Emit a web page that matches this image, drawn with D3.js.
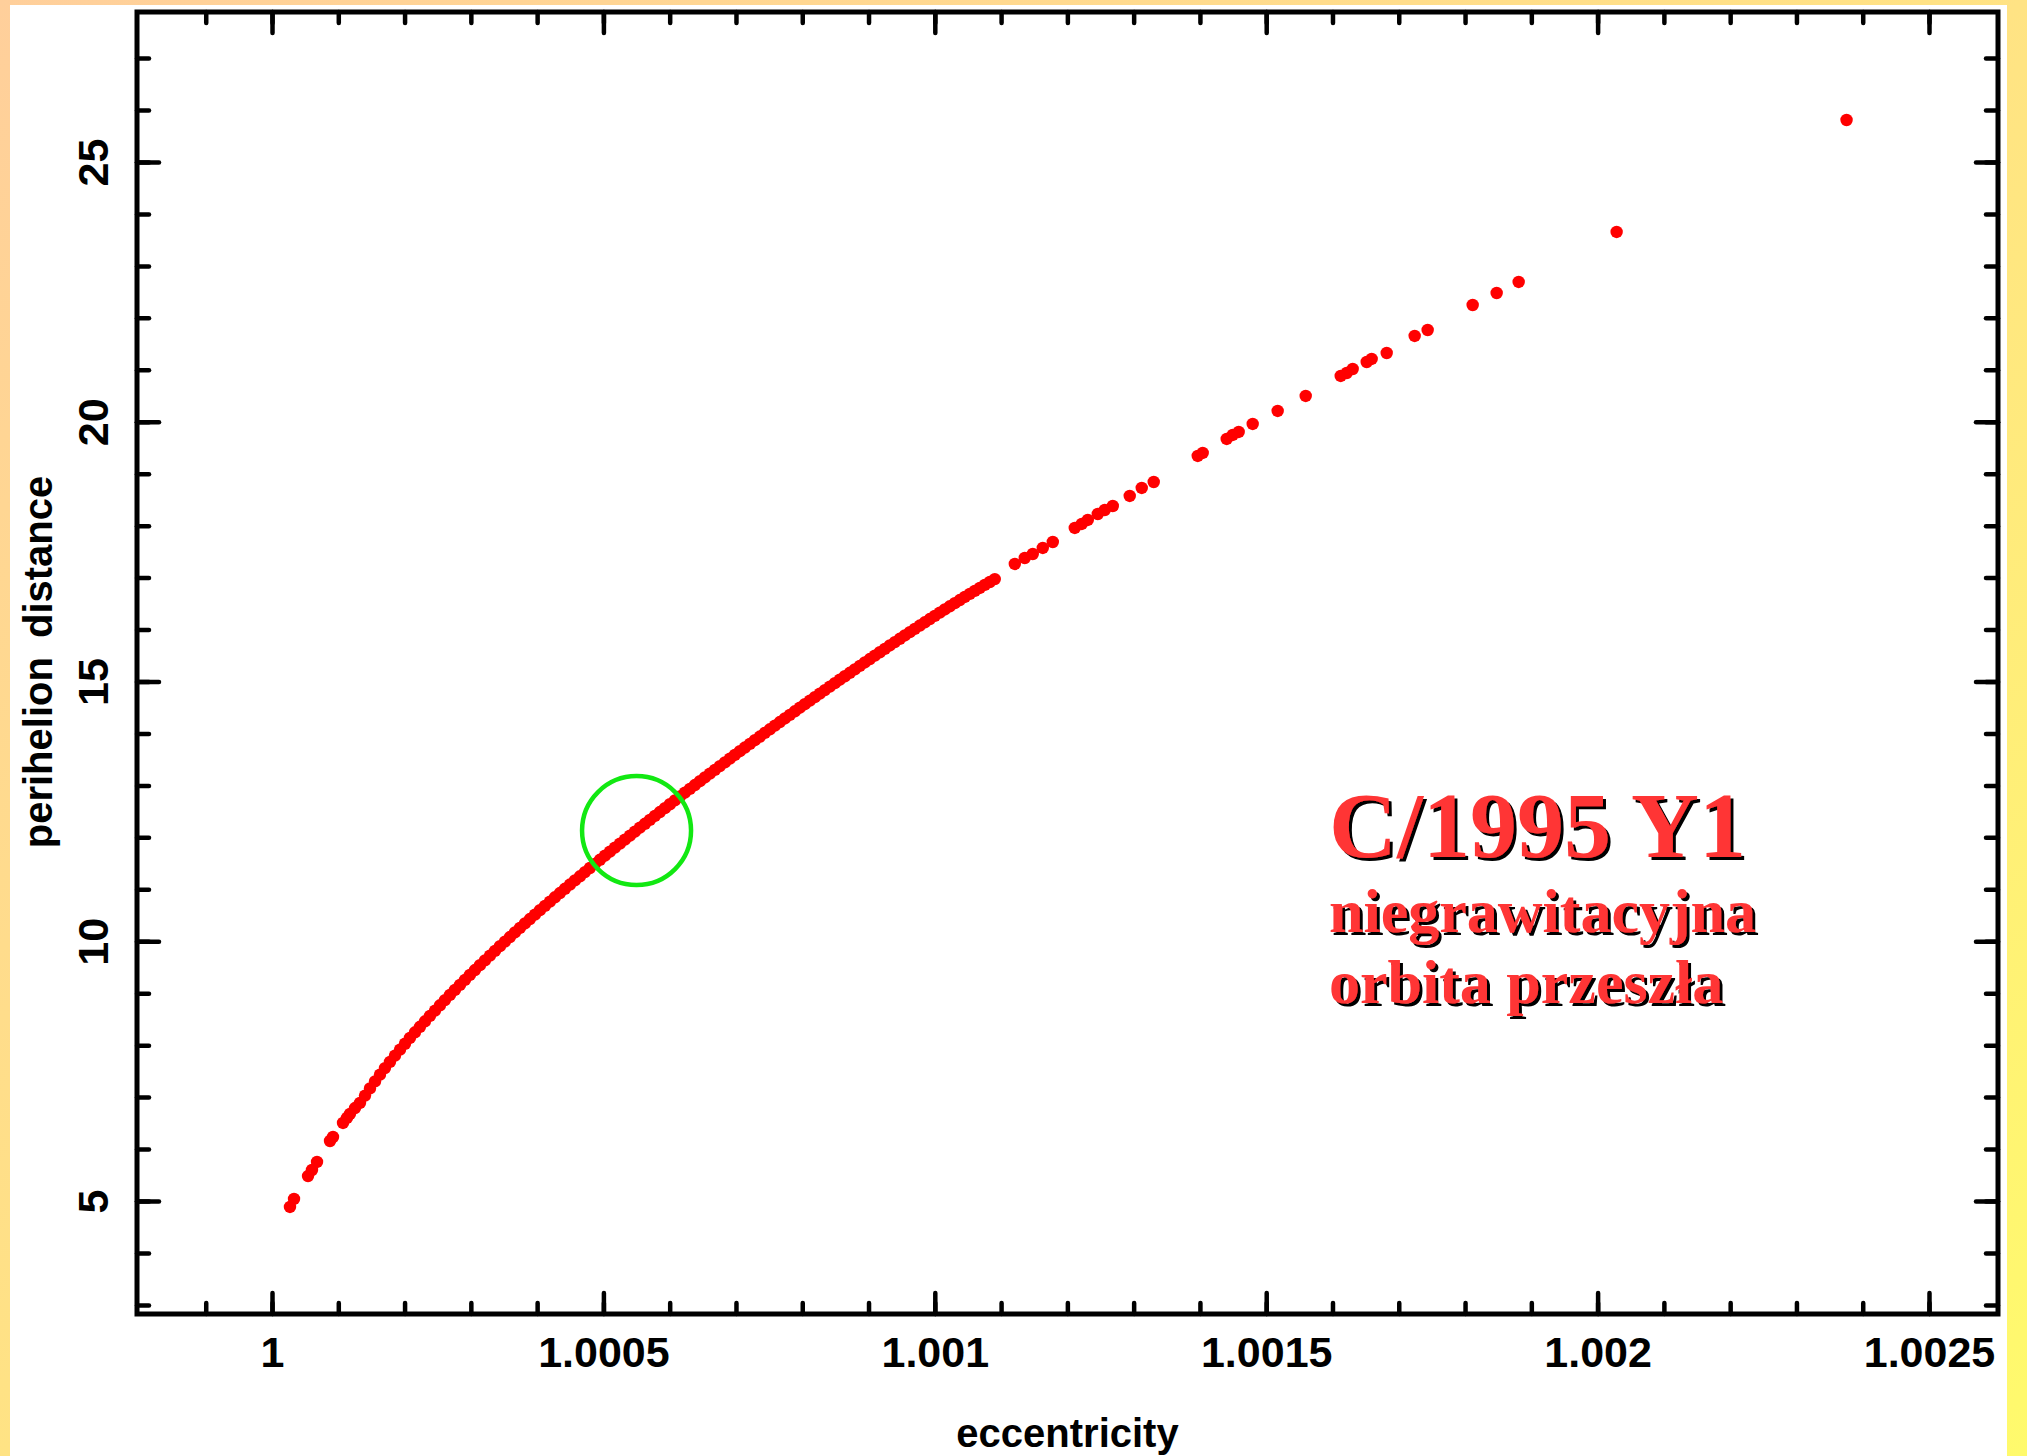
<!DOCTYPE html>
<html><head><meta charset="utf-8">
<script src="https://cdn.jsdelivr.net/npm/d3@7"></script>
<style>html,body{margin:0;padding:0;overflow:hidden;background:#fff;}</style>
</head><body><svg id="chart" width="2027" height="1456"></svg>
<script>
// ---- data ----
const eccentricity = [
1.0000271,1.0000332,1.0000543,1.0000603,1.0000679,1.0000875,1.0000920,1.0001071,1.0001131,1.0001176,1.0001252,
1.0001327,1.0001403,1.0001478,1.0001554,1.0001629,1.0001704,1.0001780,1.0001855,1.0001931,1.0002006,1.0002081,
1.0002157,1.0002232,1.0002308,1.0002383,1.0002459,1.0002534,1.0002609,1.0002685,1.0002760,1.0002836,1.0002911,
1.0002986,1.0003062,1.0003137,1.0003213,1.0003288,1.0003364,1.0003439,1.0003514,1.0003590,1.0003665,1.0003741,
1.0003816,1.0003891,1.0003967,1.0004042,1.0004118,1.0004193,1.0004268,1.0004344,1.0004419,1.0004495,1.0004570,
1.0004646,1.0004721,1.0004796,1.0004872,1.0004947,1.0005023,1.0005098,1.0005173,1.0005249,1.0005324,1.0005400,
1.0005475,1.0005550,1.0005626,1.0005701,1.0005777,1.0005852,1.0005928,1.0006003,1.0006078,1.0006154,1.0006229,
1.0006305,1.0006380,1.0006456,1.0006531,1.0006606,1.0006682,1.0006757,1.0006833,1.0006908,1.0006983,1.0007059,
1.0007134,1.0007210,1.0007285,1.0007361,1.0007436,1.0007511,1.0007587,1.0007662,1.0007738,1.0007813,1.0007888,
1.0007964,1.0008039,1.0008115,1.0008190,1.0008265,1.0008341,1.0008416,1.0008492,1.0008567,1.0008642,1.0008718,
1.0008793,1.0008869,1.0008944,1.0009020,1.0009095,1.0009170,1.0009246,1.0009321,1.0009397,1.0009472,1.0009548,
1.0009623,1.0009698,1.0009774,1.0009849,1.0009925,1.0010000,1.0010075,1.0010151,1.0010226,1.0010302,1.0010377,
1.0010453,1.0010528,1.0010603,1.0010679,1.0010754,1.0010830,1.0010905,
1.0011207,1.0011357,1.0011478,1.0011629,1.0011780,1.0012112,1.0012217,1.0012308,1.0012459,1.0012564,1.0012685,
1.0012941,1.0013122,1.0013303,1.0013967,1.0014042,1.0014404,1.0014495,1.0014585,1.0014796,1.0015173,1.0015596,
1.0016124,1.0016214,1.0016305,1.0016516,1.0016591,1.0016818,1.0017240,1.0017436,1.0018115,1.0018477,1.0018809,
1.0020287,1.0023756
];
const perihelion = [
4.885,5.039,5.481,5.597,5.751,6.155,6.232,6.502,6.598,6.675,6.790,
6.887,7.029,7.167,7.302,7.431,7.558,7.679,7.798,7.913,8.027,8.138,
8.247,8.353,8.459,8.563,8.665,8.767,8.867,8.966,9.063,9.160,9.256,
9.351,9.446,9.539,9.632,9.723,9.814,9.904,9.993,10.081,10.169,10.256,
10.342,10.428,10.513,10.597,10.680,10.763,10.846,10.928,11.010,11.091,11.171,
11.251,11.331,11.410,11.489,11.568,11.646,11.724,11.802,11.879,11.956,12.032,
12.109,12.185,12.261,12.336,12.412,12.487,12.562,12.637,12.711,12.786,12.859,
12.933,13.007,13.080,13.153,13.226,13.298,13.371,13.443,13.515,13.586,13.658,
13.729,13.799,13.870,13.941,14.011,14.080,14.150,14.220,14.289,14.358,14.426,
14.495,14.563,14.631,14.699,14.766,14.834,14.901,14.968,15.034,15.101,15.168,
15.234,15.300,15.366,15.432,15.498,15.563,15.628,15.694,15.758,15.822,15.886,
15.950,16.013,16.077,16.139,16.202,16.264,16.325,16.387,16.448,16.508,16.568,
16.627,16.686,16.744,16.801,16.859,16.915,16.971,
17.262,17.377,17.454,17.570,17.685,17.955,18.032,18.109,18.224,18.301,18.378,
18.571,18.725,18.840,19.341,19.399,19.668,19.745,19.803,19.957,20.207,20.496,
20.881,20.938,21.015,21.150,21.208,21.323,21.651,21.766,22.247,22.478,22.690,
23.653,25.808
];
const xTickValues = [1, 1.0005, 1.001, 1.0015, 1.002, 1.0025];
const xTickLabels = ["1", "1.0005", "1.001", "1.0015", "1.002", "1.0025"];
const yTickValues = [5, 10, 15, 20, 25];
const yTickLabels = ["5", "10", "15", "20", "25"];
const markedOrbit = [{e: 1.00055, q: 12.13}];
const xTitle = "eccentricity";
const yTitle = "perihelion distance";
const noteLines = ["C/1995 Y1", "niegrawitacyjna", "orbita przeszła"];

// ---- layout ----
const W = 2027, H = 1456;
const L = 137, R = 1998, T = 12, B = 1314;
const svg = d3.select("#chart");

const defs = svg.append("defs");
const grad = defs.append("linearGradient").attr("id", "bg")
  .attr("x1", 0).attr("y1", 0).attr("x2", 1).attr("y2", 1);
grad.append("stop").attr("offset", 0).attr("stop-color", "#ffcf9b");
grad.append("stop").attr("offset", 0.5).attr("stop-color", "#ffe384");
grad.append("stop").attr("offset", 1).attr("stop-color", "#fffa6c");
const shadow = defs.append("filter").attr("id", "shadow")
  .attr("x", "-5%").attr("y", "-20%").attr("width", "120%").attr("height", "150%");
shadow.append("feDropShadow").attr("dx", 3).attr("dy", 3).attr("stdDeviation", 0.4)
  .attr("flood-color", "#000").attr("flood-opacity", 1);

svg.append("rect").attr("width", W).attr("height", H).attr("fill", "url(#bg)");
svg.append("rect").attr("x", 10).attr("y", 5).attr("width", 1997).attr("height", H - 5).attr("fill", "#fff");

const x = d3.scaleLinear().domain([0.9997963, 1.0026041]).range([L, R]);
const y = d3.scaleLinear().domain([2.825, 27.887]).range([B, T]);

const font = "'Liberation Sans', Arial, Helvetica, sans-serif";
function styleAxis(g) {
  g.select(".domain").remove();
  g.selectAll(".tick line").attr("stroke", "#000").attr("stroke-width", 4.5).attr("stroke-linecap", "round");
  g.selectAll("text").attr("font-family", font).attr("font-weight", "bold").attr("font-size", 43).attr("fill", "#000");
}

const minorX = d3.range(-1, 26).map(i => 1 + i * 0.0001);
const minorY = d3.range(3, 28);

// minor ticks
svg.append("g").attr("transform", `translate(0,${B})`).call(d3.axisBottom(x).tickValues(minorX).tickSize(-11).tickFormat("")).call(styleAxis);
svg.append("g").attr("transform", `translate(0,${T})`).call(d3.axisTop(x).tickValues(minorX).tickSize(-11).tickFormat("")).call(styleAxis);
svg.append("g").attr("transform", `translate(${L},0)`).call(d3.axisLeft(y).tickValues(minorY).tickSize(-12).tickFormat("")).call(styleAxis);
svg.append("g").attr("transform", `translate(${R},0)`).call(d3.axisRight(y).tickValues(minorY).tickSize(-12).tickFormat("")).call(styleAxis);

// major ticks
svg.append("g").attr("transform", `translate(0,${B})`)
  .call(d3.axisBottom(x).tickValues(xTickValues).tickSize(-21).tickPadding(22).tickFormat((d, i) => xTickLabels[i]))
  .call(styleAxis);
svg.append("g").attr("transform", `translate(0,${T})`)
  .call(d3.axisTop(x).tickValues(xTickValues).tickSize(-21).tickFormat("")).call(styleAxis);
const yAx = svg.append("g").attr("transform", `translate(${L},0)`)
  .call(d3.axisLeft(y).tickValues(yTickValues).tickSize(-22).tickFormat((d, i) => yTickLabels[i]))
  .call(styleAxis);
yAx.selectAll("text").attr("x", 0).attr("dy", null).attr("text-anchor", "middle")
  .attr("transform", "translate(-29,0) rotate(-90)");
svg.append("g").attr("transform", `translate(${R},0)`)
  .call(d3.axisRight(y).tickValues(yTickValues).tickSize(-22).tickFormat("")).call(styleAxis);

// frame
svg.append("rect").attr("x", L).attr("y", T).attr("width", R - L).attr("height", B - T)
  .attr("fill", "none").attr("stroke", "#000").attr("stroke-width", 5);

// points
const pts = eccentricity.map((e, i) => ({e, q: perihelion[i]}));
svg.append("g").selectAll("circle").data(pts).join("circle")
  .attr("cx", d => x(d.e)).attr("cy", d => y(d.q)).attr("r", 6.2).attr("fill", "#ff0000");

// green marker circle
svg.append("g").selectAll("circle").data(markedOrbit).join("circle")
  .attr("cx", d => x(d.e)).attr("cy", d => y(d.q)).attr("r", 54.5)
  .attr("fill", "none").attr("stroke", "#12e812").attr("stroke-width", 4.5);

// axis titles
svg.append("text").attr("x", (L + R) / 2).attr("y", 1447).attr("text-anchor", "middle")
  .attr("font-family", font).attr("font-weight", "bold").attr("font-size", 40).text(xTitle);
svg.append("text").attr("transform", "translate(52,662) rotate(-90)").attr("text-anchor", "middle")
  .attr("font-family", font).attr("font-weight", "bold").attr("font-size", 40).attr("word-spacing", 8).text(yTitle);

// annotation
const serif = "'Liberation Serif', 'Times New Roman', serif";
const note = [
  {t: noteLines[0], y: 857, s: 94},
  {t: noteLines[1], y: 932, s: 62},
  {t: noteLines[2], y: 1003, s: 62}
];
svg.append("g").attr("font-family", serif).attr("font-weight", "bold").attr("filter", "url(#shadow)")
  .selectAll("text").data(note).join("text")
  .attr("x", 1329).attr("y", d => d.y).attr("font-size", d => d.s).attr("fill", "#ff3434")
  .text(d => d.t);
</script></body></html>
